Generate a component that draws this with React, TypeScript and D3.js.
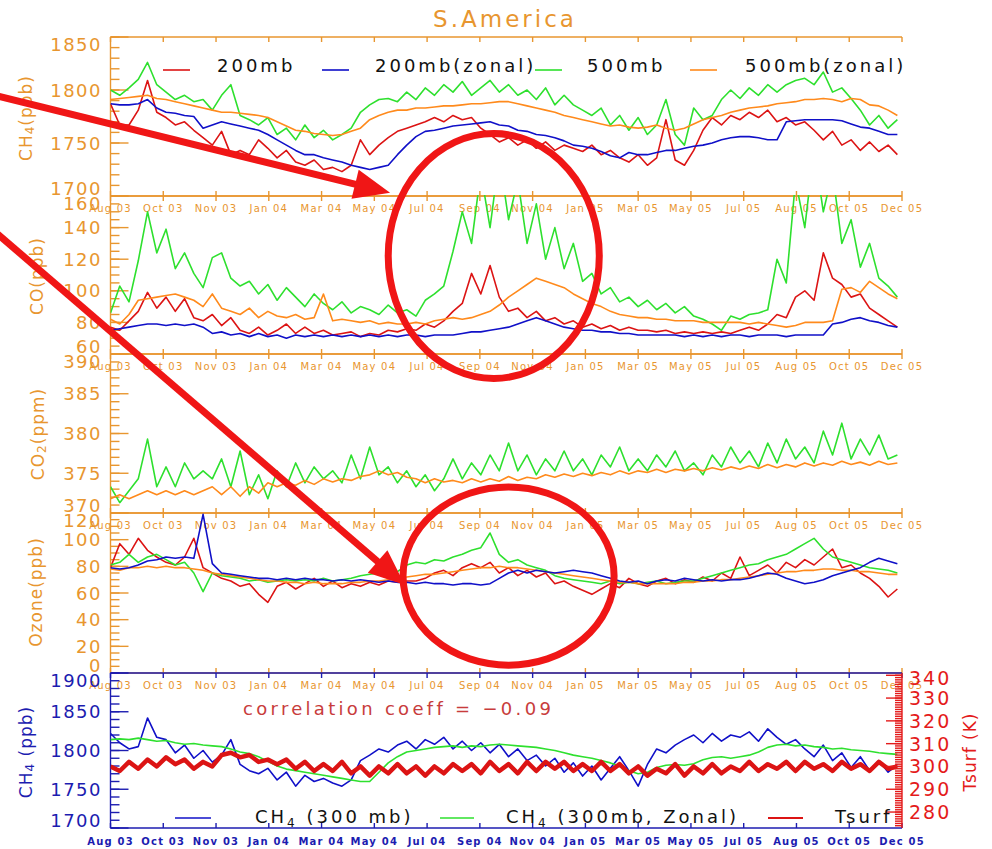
import React from "react";
import * as d3 from "d3";

// values, one sample every 10 days from 1 Aug 2003
const sampleDays = [0,10,20,30,40,50,60,70,80,90,100,110,120,130,140,150,160,170,180,190,200,210,220,230,240,250,260,270,280,290,300,310,320,330,340,350,360,370,380,390,400,410,420,430,440,450,460,470,480,490,500,510,520,530,540,550,560,570,580,590,600,610,620,630,640,650,660,670,680,690,700,710,720,730,740,750,760,770,780,790,800,810,820,830,840,850];

const tickDateStrings = ["2003-08-01","2003-09-27","2003-11-23","2004-01-19","2004-03-16","2004-05-12","2004-07-08","2004-09-03","2004-10-30","2004-12-26","2005-02-21","2005-04-19","2005-06-15","2005-08-11","2005-10-07","2005-12-03"];
const tickLabels = ["Aug 03","Oct 03","Nov 03","Jan 04","Mar 04","May 04","Jul 04","Sep 04","Nov 04","Jan 05","Mar 05","May 05","Jul 05","Aug 05","Oct 05","Dec 05"];

const ch4Ticks = [1700, 1750, 1800, 1850];
const coTicks = [60, 80, 100, 120, 140, 160];
const co2Ticks = [370, 375, 380, 385, 390];
const ozoneTicks = [0, 20, 40, 60, 80, 100, 120];
const ch4LowTicks = [1700, 1750, 1800, 1850, 1900];
const tsurfTicks = [280, 290, 300, 310, 320, 330, 340];

const legendTop = ["200mb", "200mb(zonal)", "500mb", "500mb(zonal)"];

// CH4 (ppb)
const ch4Red200 = [1787,1767,1767,1781,1809,1779,1774,1767,1770,1762, 1755,1748,1761,1739,1743,1739,1753,1745,1736,1743, 1732,1729,1734,1725,1727,1723,1729,1753,1739,1748, 1755,1761,1764,1767,1770,1774,1770,1776,1772,1774, 1764,1758,1751,1755,1748,1753,1745,1751,1743,1748, 1745,1742,1748,1739,1743,1736,1732,1739,1729,1736, 1772,1734,1729,1743,1762,1774,1767,1776,1772,1779, 1774,1781,1770,1774,1767,1770,1762,1753,1761,1748, 1753,1743,1751,1742,1748,1739];
const ch4Blue200z = [1787,1786,1786,1787,1791,1783,1779,1778,1776,1775, 1764,1767,1770,1768,1766,1764,1762,1758,1753,1748, 1743,1739,1739,1736,1734,1732,1729,1727,1725,1727, 1729,1739,1748,1756,1761,1762,1764,1766,1767,1768, 1769,1770,1767,1766,1762,1761,1758,1757,1755,1752, 1748,1747,1745,1742,1738,1736,1741,1739,1739,1741, 1743,1743,1745,1747,1748,1750,1753,1755,1756,1756, 1755,1753,1753,1770,1771,1772,1772,1772,1772,1771, 1768,1765,1764,1761,1758,1758];
const ch4Green500 = [1800,1795,1802,1810,1826,1805,1798,1791,1795,1789, 1791,1781,1795,1805,1776,1772,1767,1774,1758,1764, 1753,1767,1755,1762,1753,1758,1764,1779,1786,1791, 1792,1789,1798,1791,1802,1795,1805,1798,1808,1795, 1802,1809,1798,1805,1795,1800,1791,1802,1786,1795, 1786,1781,1776,1783,1767,1776,1762,1774,1758,1767, 1791,1758,1748,1783,1772,1776,1791,1800,1792,1802, 1795,1805,1798,1805,1809,1811,1805,1817,1798,1802, 1792,1781,1767,1776,1764,1772];
const ch4Orange500z = [1791,1792,1793,1794,1795,1792,1791,1789,1787,1785, 1783,1781,1779,1779,1778,1777,1776,1774,1770,1766, 1762,1761,1759,1758,1757,1758,1761,1764,1772,1776, 1779,1781,1781,1783,1783,1784,1785,1785,1786,1787, 1787,1788,1789,1789,1787,1785,1783,1781,1779,1776, 1774,1772,1770,1768,1766,1767,1765,1764,1765,1767, 1764,1762,1764,1768,1772,1774,1776,1779,1781,1783, 1784,1785,1787,1788,1789,1791,1791,1792,1791,1789, 1792,1791,1786,1785,1781,1776];

// CO (ppb)
const coRed200 = [77,75,81,87,99,89,96,87,95,83, 81,85,78,83,75,73,77,72,75,79, 73,77,73,75,72,73,74,71,73,72, 75,74,76,75,79,77,81,87,92,111, 98,116,96,87,89,83,87,81,83,79, 81,77,79,76,78,75,77,75,75,74, 75,73,74,73,74,73,74,73,75,77, 75,79,85,83,96,100,94,124,108,104, 96,98,89,85,81,77];
const coBlue200z = [75,76,77,78,79,79,78,79,78,79, 77,73,74,72,73,71,73,71,72,70, 72,71,72,71,72,71,72,71,72,71, 72,71,72,72,71,72,72,72,73,74, 74,75,76,77,79,81,83,81,79,77, 76,75,75,74,74,73,73,72,72,72, 72,72,71,72,71,72,71,72,72,71, 72,72,72,71,72,72,72,72,79,80, 82,83,81,80,78,77];
const coGreen500 = [86,103,93,119,150,124,139,114,124,111, 102,121,124,108,103,106,98,104,94,102, 96,90,98,92,88,93,86,90,88,85, 91,86,88,84,94,98,103,125,150,130, 175,140,185,145,170,130,155,120,140,114, 130,106,111,98,102,93,96,90,94,88, 92,86,90,84,82,79,75,84,82,85, 86,88,120,105,170,140,190,150,175,130, 145,115,130,108,103,96];
const coOrange500z = [82,79,85,94,95,96,97,98,96,94, 90,98,89,87,85,89,83,87,84,83, 85,82,83,98,81,82,81,80,81,79, 80,79,79,80,79,81,82,83,82,83, 85,87,91,96,100,104,108,106,104,102, 98,95,92,90,87,85,84,83,83,82, 82,81,81,81,80,80,80,80,80,79, 80,79,78,77,78,80,80,80,81,101, 102,99,106,102,98,95];

// CO2 (ppm)
const co2Green500 = [373.3,371.3,372.8,374.3,379.3,373.3,375.8,373.3,376.3,374.3, 375.3,374.3,376.8,373.3,377.8,372.3,374.8,371.8,375.3,373.3, 376.3,373.8,375.8,374.3,375.3,373.8,377.3,374.3,378.3,374.8, 375.8,373.8,375.3,373.3,374.8,372.8,374.3,376.8,374.3,376.3, 374.8,377.3,375.3,378.8,375.3,377.3,374.8,376.8,375.3,377.8, 375.3,376.8,374.8,377.3,375.8,378.3,375.3,376.8,375.3,377.3, 375.8,377.8,375.3,376.3,374.8,377.3,375.8,378.3,376.3,377.8, 375.8,378.8,376.3,379.3,376.8,378.3,376.3,380.3,377.3,381.3, 376.8,379.3,377.3,379.8,376.8,377.3];
const co2Orange500z = [371.8,372.3,371.8,372.3,372.8,372.3,372.8,372.3,372.8,372.3, 372.8,373.3,372.3,373.3,372.1,373.3,372.5,373.8,373.3,373.8, 373.5,374.1,373.6,374.3,373.9,374.3,374.1,374.6,374.8,375.3, 374.8,375.1,374.5,374.3,373.8,374.3,373.9,374.1,373.8,374.3, 373.9,374.3,374.0,374.6,374.1,374.5,374.3,374.8,374.5,374.9, 374.6,375.0,374.7,375.1,374.8,375.3,374.9,375.3,375.1,375.5, 375.1,375.5,375.3,375.6,375.3,375.7,375.4,375.8,375.5,375.9, 375.6,376.1,375.7,376.1,375.8,376.3,375.9,376.3,376.0,376.5, 376.1,376.4,376.0,376.5,376.1,376.3];

// Ozone (ppb)
const o3Red200 = [79,97,89,101,92,87,83,81,87,101, 79,75,71,69,65,67,59,53,65,68, 63,67,71,65,69,64,67,65,68,66, 69,68,69,69,71,75,77,73,79,82, 79,83,75,79,73,77,72,75,67,69, 65,62,59,63,67,64,71,67,65,69, 71,67,70,68,72,69,75,71,87,73, 77,81,75,83,79,85,81,87,93,79, 81,75,71,65,57,63];
const o3Blue200z = [79,78,79,81,84,85,87,86,87,86, 119,82,75,74,73,72,71,71,70,71, 70,71,70,70,69,70,69,70,69,68, 69,68,68,67,68,67,67,66,67,67, 66,67,71,75,77,75,77,76,75,76, 77,76,75,73,71,69,68,69,67,69, 70,69,71,70,69,70,69,70,70,71, 73,75,74,71,69,67,68,70,73,75, 77,79,83,86,84,82];
const o3Green500 = [81,83,89,83,87,89,85,81,83,75, 61,75,73,72,71,69,70,68,69,70, 69,70,69,71,69,70,71,73,74,75, 77,76,81,83,82,85,84,87,89,92, 94,105,89,83,85,81,79,77,73,71, 70,69,68,67,69,67,68,67,68,69, 67,68,69,69,71,73,75,77,79,81, 82,85,87,89,93,97,101,93,87,85, 83,81,79,78,77,75];
const o3Orange500z = [78,77,79,79,80,79,80,79,79,78, 77,75,74,73,72,71,70,69,69,68, 68,67,68,67,67,67,68,68,69,69, 70,71,72,73,74,74,75,76,77,78, 79,79,80,79,79,78,77,76,75,74, 73,72,71,70,69,68,68,67,67,67, 67,67,68,68,69,69,70,70,71,72, 73,74,75,76,76,77,77,78,78,77, 77,76,76,75,74,74];

// CH4 300 mb (ppb) and surface temperature (K)
const ch4Blue300 = [1822,1810,1802,1805,1842,1817,1814,1797,1807,1790, 1800,1785,1794,1814,1782,1774,1770,1777,1762,1772, 1754,1768,1760,1764,1758,1754,1762,1787,1794,1802, 1798,1807,1812,1802,1814,1808,1817,1802,1812,1800, 1810,1797,1808,1792,1802,1787,1794,1780,1790,1772, 1784,1767,1780,1762,1777,1792,1774,1754,1782,1802, 1797,1807,1814,1820,1810,1822,1812,1820,1817,1824, 1812,1828,1817,1808,1814,1802,1792,1807,1787,1797, 1778,1792,1774,1787,1772,1782];
const ch4Green300z = [1814,1815,1814,1816,1814,1812,1813,1810,1808,1809, 1807,1806,1805,1802,1798,1796,1792,1786,1780,1776, 1774,1772,1770,1768,1766,1764,1762,1760,1760,1772, 1784,1792,1798,1800,1802,1804,1805,1806,1804,1806, 1805,1807,1808,1807,1806,1805,1804,1802,1800,1797, 1794,1792,1790,1787,1784,1780,1774,1770,1772,1778, 1781,1782,1781,1783,1788,1791,1792,1790,1792,1794, 1798,1804,1807,1808,1806,1807,1805,1804,1802,1803, 1801,1800,1799,1797,1796,1795];
const tsurf = [300,298,302,299,303,300,304,301,303,299, 302,300,305,306,304,305,302,303,301,303, 299,302,298,301,298,302,297,300,296,300, 297,301,297,300,296,300,297,301,298,301, 297,302,298,301,297,302,298,302,299,302, 298,301,298,302,298,301,297,300,296,299, 297,301,296,300,297,301,297,300,298,302, 298,301,299,302,298,302,299,301,298,302, 299,301,298,302,299,300];

const ORANGE = "#e8962f";
const AXBLUE = "#1c1cb0";
const AXRED = "#e41b1b";
const RED = "#dc1414";
const BLUE = "#1010c8";
const GREEN = "#2ee02e";
const ORANGE_LINE = "#ff8a1c";
const MARK = "#f01616";
const FONT = "DejaVu Sans, sans-serif";

const LEFT = 110.5;
const RIGHT = 902;
const t0 = new Date(2003, 7, 1);
const t1 = new Date(2005, 11, 3);
const x = d3.scaleTime().domain([t0, t1]).range([LEFT, RIGHT]);
const sampleDates = sampleDays.map(d => d3.timeDay.offset(t0, d));
const parse = d3.timeParse("%Y-%m-%d");
const tickDates = tickDateStrings.map(s => parse(s) as Date);

const panels = [
  { top: 37, bottom: 196, domain: [1700, 1850], ticks: ch4Ticks, minor: 10, color: ORANGE,
    series: [[ch4Red200, RED], [ch4Blue200z, BLUE], [ch4Green500, GREEN], [ch4Orange500z, ORANGE_LINE]] },
  { top: 196, bottom: 354, domain: [60, 160], ticks: coTicks, minor: 5, color: ORANGE,
    series: [[coRed200, RED], [coBlue200z, BLUE], [coGreen500, GREEN], [coOrange500z, ORANGE_LINE]] },
  { top: 354, bottom: 513, domain: [370, 390], ticks: co2Ticks, minor: 1, color: ORANGE,
    series: [[co2Green500, GREEN], [co2Orange500z, ORANGE_LINE]] },
  { top: 513, bottom: 673, domain: [0, 120], ticks: ozoneTicks, minor: 5, color: ORANGE,
    series: [[o3Red200, RED], [o3Green500, GREEN], [o3Orange500z, ORANGE_LINE], [o3Blue200z, BLUE]] },
  { top: 673, bottom: 828, domain: [1700, 1900], ticks: ch4LowTicks, minor: 10, color: AXBLUE,
    series: [[ch4Blue300, BLUE], [ch4Green300z, GREEN]] },
];

const yScale = (p: any) => d3.scaleLinear().domain(p.domain).range([p.bottom, p.top]);
const tsurfScale = d3.scaleLinear().domain([273, 341]).range([828, 673]);

function linePath(values: number[], y: any) {
  return d3.line<number>().x((_, i) => x(sampleDates[i])).y(v => y(v))(values) || "";
}

function Panel({ p, idx }: { p: any; idx: number }) {
  const y = yScale(p);
  const minors = d3.range(p.domain[0], p.domain[1] + 1e-6, p.minor);
  const last = idx === panels.length - 1;
  return (
    <g>
      <defs>
        <clipPath id={"clip" + idx}>
          <rect x={LEFT} y={p.top - 1} width={RIGHT - LEFT + 1} height={p.bottom - p.top + 2} />
        </clipPath>
      </defs>
      <g stroke={p.color} strokeWidth={1.4} fill="none">
        <line x1={LEFT} x2={LEFT} y1={p.top} y2={p.bottom} />
        <line x1={LEFT} x2={RIGHT} y1={p.top} y2={p.top} />
        <line x1={LEFT} x2={RIGHT} y1={p.bottom} y2={p.bottom} />
        {minors.map(v => <line key={"m" + v} x1={LEFT} x2={LEFT + 9} y1={y(v)} y2={y(v)} />)}
        {p.ticks.map((v: number) => <line key={"M" + v} x1={LEFT} x2={LEFT + 18} y1={y(v)} y2={y(v)} />)}
        {tickDates.map((d, i) => (
          <g key={"x" + i}>
            <line x1={x(d)} x2={x(d)} y1={p.top} y2={p.top + 5} />
            <line x1={x(d)} x2={x(d)} y1={p.bottom - 5} y2={p.bottom} />
          </g>
        ))}
      </g>
      <g fill={p.color} fontFamily={FONT} fontSize={18} letterSpacing={1.5} textAnchor="end">
        {p.ticks.map((v: number, i: number) => {
          const shift = i === 0 ? -8 : i === p.ticks.length - 1 ? 7 : 0;
          return <text key={v} x={102} y={y(v) + shift} dominantBaseline="central">{v}</text>;
        })}
      </g>
      <g fill={p.color} fontFamily={FONT} fontSize={10} letterSpacing={1.2} textAnchor="middle"
         fontWeight={last ? "bold" : "normal"}>
        {tickDates.map((d, i) => (
          <text key={i} x={x(d)} y={p.bottom + (last ? 13 : 12)} dominantBaseline="central">{tickLabels[i]}</text>
        ))}
      </g>
      <g clipPath={`url(#clip${idx})`}>
        {p.series.map((s: any, k: number) => (
          <path key={k} d={linePath(s[0], y)} fill="none" stroke={s[1]} strokeWidth={1.6} strokeLinejoin="round" />
        ))}
        {last && <path d={linePath(tsurf, tsurfScale)} fill="none" stroke={RED} strokeWidth={4.5} strokeLinejoin="round" />}
      </g>
    </g>
  );
}

function RightAxis() {
  const minors = d3.range(274, 341, 1);
  return (
    <g>
      <g stroke={AXRED} strokeWidth={1.4}>
        <line x1={RIGHT} x2={RIGHT} y1={673} y2={828} />
        {minors.map(v => <line key={v} x1={RIGHT - 7} x2={RIGHT} y1={tsurfScale(v)} y2={tsurfScale(v)} />)}
        {tsurfTicks.map(v => <line key={"M" + v} x1={RIGHT - 16} x2={RIGHT} y1={tsurfScale(v)} y2={tsurfScale(v)} />)}
      </g>
      <g fill={AXRED} fontFamily={FONT} fontSize={19} letterSpacing={2}>
        {tsurfTicks.map(v => (
          <text key={v} x={909} y={tsurfScale(v) + (v === 340 ? 3 : 0)} dominantBaseline="central">{v}</text>
        ))}
      </g>
    </g>
  );
}

function YTitle({ cx, cy, color, children }: any) {
  return (
    <text transform={`translate(${cx},${cy}) rotate(-90)`} textAnchor="middle" dominantBaseline="central"
      fill={color} fontFamily={FONT} fontSize={17} letterSpacing={1}>{children}</text>
  );
}

function Arrow({ from, to }: any) {
  const ang = Math.atan2(to[1] - from[1], to[0] - from[0]);
  const c = Math.cos(ang), s = Math.sin(ang);
  const L = 36, Wd = 15;
  const bx = to[0] - L * c, by = to[1] - L * s;
  const pts = [[to[0], to[1]], [bx + Wd * s, by - Wd * c], [bx - Wd * s, by + Wd * c]];
  return (
    <g>
      <line x1={from[0]} y1={from[1]} x2={bx + 4 * c} y2={by + 4 * s} stroke={MARK} strokeWidth={7} />
      <polygon points={pts.map(q => q.join(",")).join(" ")} fill={MARK} />
    </g>
  );
}

export default function App() {
  const yCH4 = yScale(panels[0]);
  const yCO = yScale(panels[1]);
  const yO3 = yScale(panels[3]);
  const day = (d: number) => x(d3.timeDay.offset(t0, d));
  const span = (d: number, r: number) => x(d3.timeDay.offset(t0, d + r)) - x(d3.timeDay.offset(t0, d));

  const sub = (t: string) => <tspan dy={4} fontSize={12}>{t}</tspan>;

  return (
    <svg width={992} height={849} style={{ position: "absolute", left: 0, top: 0, background: "#fff" }}>
      <rect x={0} y={0} width={992} height={849} fill="#fff" />
      <text x={505} y={27} textAnchor="middle" fill={ORANGE} fontFamily={FONT} fontSize={23} letterSpacing={3}>S.America</text>

      {panels.map((p, i) => <Panel key={i} p={p} idx={i} />)}
      <RightAxis />

      <YTitle cx={26} cy={118} color={ORANGE}>CH{sub("4")}<tspan dy={-4}>(ppb)</tspan></YTitle>
      <YTitle cx={37} cy={276} color={ORANGE}>CO(ppb)</YTitle>
      <YTitle cx={38} cy={434} color={ORANGE}>CO{sub("2")}<tspan dy={-4}>(ppm)</tspan></YTitle>
      <YTitle cx={36} cy={592} color={ORANGE}>Ozone(ppb)</YTitle>
      <YTitle cx={26} cy={752} color={AXBLUE}>CH{sub("4")}<tspan dy={-4}> (ppb)</tspan></YTitle>
      <YTitle cx={970} cy={752} color={AXRED}>Tsurf (K)</YTitle>

      {/* legend, top panel */}
      <g fontFamily={FONT} fontSize={18} letterSpacing={3} fill="#111">
        {[[163, 217, RED], [322, 375, BLUE], [535, 587, GREEN], [690, 745, ORANGE_LINE]].map((l: any, i) => (
          <g key={i}>
            <line x1={l[0]} x2={l[0] + 27} y1={70} y2={70} stroke={l[2]} strokeWidth={1.6} />
            <text x={l[1]} y={72}>{legendTop[i]}</text>
          </g>
        ))}
      </g>

      {/* bottom panel texts */}
      <text x={243} y={715} fill="#c83c3c" fontFamily={FONT} fontSize={18} letterSpacing={3.3}>correlation coeff = −0.09</text>
      <g fontFamily={FONT} fontSize={18} letterSpacing={3} fill="#111">
        <line x1={175} x2={211} y1={818} y2={818} stroke={BLUE} strokeWidth={1.6} />
        <text x={255} y={823}>CH<tspan dy={4} fontSize={12}>4</tspan><tspan dy={-4}> (300 mb)</tspan></text>
        <line x1={440} x2={474} y1={818} y2={818} stroke={GREEN} strokeWidth={1.6} />
        <text x={506} y={823}>CH<tspan dy={4} fontSize={12}>4</tspan><tspan dy={-4}> (300mb, Zonal)</tspan></text>
        <line x1={768} x2={803} y1={818} y2={818} stroke={RED} strokeWidth={2} />
        <text x={835} y={823}>Tsurf</text>
      </g>

      {/* red annotations */}
      <g fill="none" stroke={MARK} strokeWidth={7}>
        <ellipse cx={day(414)} cy={yCO(122)} rx={span(414, 114.5)} ry={yCO(122 - 77.5) - yCO(122)} />
        <ellipse cx={day(430)} cy={yO3(72.7)} rx={span(430, 114.5)} ry={yO3(72.7 - 66.8) - yO3(72.7)} />
      </g>
      <Arrow from={[day(-130), yCH4(1796)]} to={[day(302), yCH4(1703)]} />
      <Arrow from={[day(-130), yCO(140)]} to={[day(318), yO3(66)]} />
    </svg>
  );
}
